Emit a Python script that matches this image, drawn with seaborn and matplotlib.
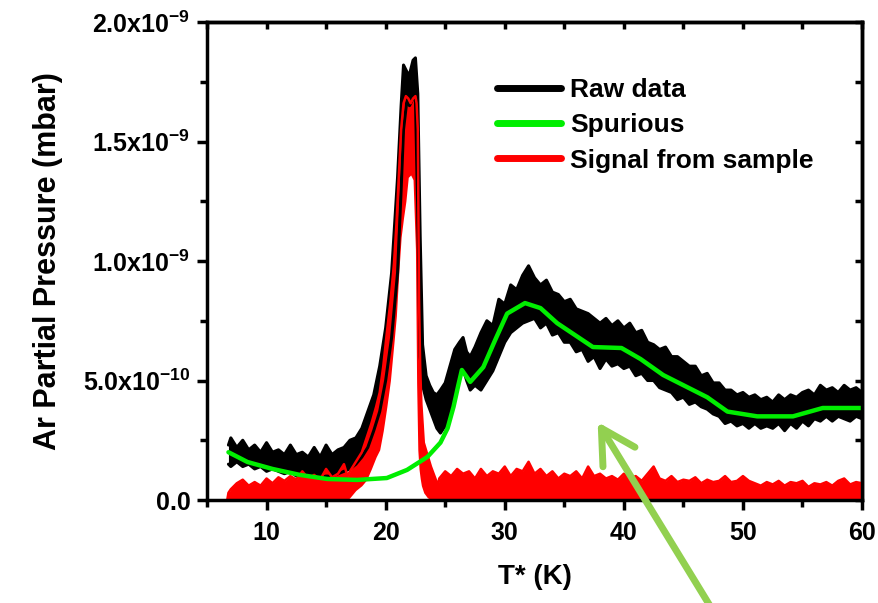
import numpy as np
import pandas as pd
import matplotlib
matplotlib.use("Agg")
import matplotlib.pyplot as plt
from matplotlib.lines import Line2D
import seaborn as sns

# values in units of 1e-10 mbar
raw_T = [6.8, 7.0, 7.5, 8.0, 8.5, 9.0, 9.5, 10.0, 10.5, 11.0, 11.5, 12.0, 12.5, 13.0, 13.5, 14.0, 14.5, 15.0, 15.5, 16.0,
         16.5, 17.0, 17.5, 18.0, 18.5, 19.0, 19.5, 20.0, 20.5, 21.0, 21.3, 21.5, 21.8, 22.0, 22.3, 22.5, 22.7, 22.9,
         23.1, 23.4, 23.7, 24.0, 24.3, 24.6, 25.0, 25.4, 25.8, 26.2, 26.5, 26.8, 27.1, 27.5,
         28.0, 28.5, 29.0, 29.5, 30.0, 30.5, 31.0, 31.5, 32.0, 32.5, 33.0, 33.5, 34.0, 34.5, 35.0, 35.5, 36.0, 36.5,
         37.0, 37.5, 38.0, 38.5, 39.0, 39.5, 40.0, 40.5, 41.0, 41.5, 42.0, 42.5, 43.0, 43.5, 44.0, 44.5, 45.0, 45.5,
         46.0, 46.5, 47.0, 47.5, 48.0, 48.5, 49.0, 49.5, 50.0, 50.5, 51.0, 51.5, 52.0, 52.5, 53.0, 53.5, 54.0, 54.5,
         55.0, 55.5, 56.0, 56.5, 57.0, 57.5, 58.0, 58.5, 59.0, 59.5, 60.0]
raw_hi = [2.3, 2.6, 2.2, 2.5, 2.1, 2.3, 2.0, 2.4, 2.0, 2.1, 1.9, 2.3, 1.9, 2.0, 1.8, 2.2, 1.8, 2.3, 1.9, 2.1,
          2.2, 2.5, 2.6, 3.0, 3.7, 4.4, 5.6, 7.2, 9.5, 13.5, 16.5, 18.2, 17.9, 17.8, 18.4, 18.5, 17.0, 11.0,
          6.5, 5.2, 4.8, 4.5, 4.4, 4.6, 4.9, 5.6, 6.3, 6.6, 6.8, 6.2, 6.0, 6.4,
          7.0, 7.5, 7.3, 8.4, 8.2, 9.0, 8.8, 9.4, 9.8, 9.3, 9.0, 9.2, 8.7, 8.6, 8.3, 8.4, 8.0, 7.9,
          7.8, 7.6, 7.4, 7.6, 7.3, 7.5, 7.2, 7.4, 7.0, 7.1, 6.6, 6.5, 6.3, 6.4, 6.0, 6.0, 5.8, 5.6,
          5.6, 5.2, 5.3, 4.9, 4.9, 4.6, 4.6, 4.4, 4.5, 4.3, 4.4, 4.2, 4.3, 4.1, 4.4, 4.2, 4.4, 4.3,
          4.5, 4.6, 4.4, 4.8, 4.6, 4.7, 4.5, 4.8, 4.6, 4.7, 4.5]
raw_lo = [1.5, 1.4, 1.6, 1.4, 1.5, 1.3, 1.4, 1.2, 1.3, 1.2, 1.1, 1.2, 1.0, 1.1, 1.0, 1.0, 0.95, 1.0, 1.0, 1.1,
          1.2, 1.3, 1.5, 1.8, 2.2, 2.9, 3.7, 5.0, 6.8, 9.5, 13.0, 15.5, 16.8, 16.5, 16.8, 16.8, 12.0, 6.0,
          4.8, 4.2, 3.8, 3.4, 3.0, 2.8, 3.1, 3.8, 4.6, 5.2, 5.5, 5.0, 4.6, 4.8,
          4.6, 5.0, 5.4, 6.0, 6.6, 7.0, 7.2, 7.4, 7.5, 7.6, 7.2, 7.4, 6.9, 7.0, 6.6, 6.6, 6.2, 6.3,
          5.8, 6.0, 5.5, 5.9, 5.6, 5.7, 5.5, 5.6, 5.2, 5.3, 5.0, 5.0, 4.7, 4.6, 4.5, 4.2, 4.3, 4.0,
          4.1, 3.9, 3.8, 3.6, 3.5, 3.2, 3.3, 3.1, 3.2, 3.0, 3.2, 3.0, 3.1, 3.0, 3.2, 2.9, 3.2, 3.0,
          3.3, 3.1, 3.4, 3.3, 3.5, 3.3, 3.5, 3.4, 3.3, 3.5, 3.4]

spur_T = [6.8, 8.4, 10.5, 12.8, 15.1, 17.6, 20.1, 21.8, 23.5, 24.6, 25.2, 25.7, 26.1, 26.4, 27.1, 28.2, 29.2,
          30.2, 31.7, 33.0, 34.4, 37.4, 39.8, 41.4, 43.3, 47.0, 48.7, 51.2, 54.2, 56.7, 60.0]
spur_v = [2.0, 1.59, 1.3, 1.05, 0.88, 0.84, 0.92, 1.26, 1.8, 2.4, 3.0, 3.9, 4.8, 5.44, 4.94, 5.56, 6.7,
          7.8, 8.24, 8.03, 7.4, 6.4, 6.36, 5.9, 5.23, 4.3, 3.7, 3.5, 3.5, 3.85, 3.85]

sig_T = [6.7, 6.8, 7.0, 7.5, 8.0, 8.5, 9.0, 9.5, 10.0, 10.5, 11.0, 11.5, 12.0, 12.5, 13.0, 13.5, 14.0, 14.5,
         15.0, 15.5, 16.0, 16.5,
         16.8, 17.0, 17.5, 18.0, 18.4, 18.8, 19.2, 19.5, 19.8, 20.1, 20.4, 20.7, 20.9, 21.1, 21.3, 21.5, 21.7,
         21.9, 22.1, 22.3, 22.5, 22.6, 22.7, 22.8, 22.9, 23.0, 23.2, 23.5, 23.8, 24.1, 24.4,
         24.5, 25.0, 25.5, 26.0, 26.5, 27.0, 27.5, 28.0, 28.5, 29.0, 29.5, 30.0, 30.5, 31.0, 31.5, 32.0, 32.5,
         33.0, 33.5, 34.0, 34.5, 35.0, 35.5, 36.0, 36.5, 37.0, 37.5, 38.0, 38.5, 39.0, 39.5, 40.0, 40.5, 41.0,
         41.5, 42.0, 42.5, 43.0, 43.5, 44.0, 44.5, 45.0, 45.5, 46.0, 46.5, 47.0, 47.5, 48.0, 48.5, 49.0, 49.5,
         50.0, 50.5, 51.0, 51.5, 52.0, 52.5, 53.0, 53.5, 54.0, 54.5, 55.0, 55.5, 56.0, 56.5, 57.0, 57.5, 58.0,
         58.5, 59.0, 59.5, 60.0]
sig_hi = [0.0, 0.3, 0.45, 0.7, 0.85, 0.6, 0.75, 0.6, 0.9, 0.7, 0.95, 0.8, 1.0, 0.85, 1.2, 0.9, 1.05, 0.85,
          1.3, 0.95, 1.1, 1.5,
          1.0, 1.2, 1.6, 2.0, 2.6, 3.2, 3.9, 4.5, 5.6, 7.0, 8.3, 9.9, 11.5, 13.5, 15.5, 16.6, 16.9,
          16.8, 16.6, 16.8, 16.9, 16.6, 15.5, 8.5, 5.6, 4.0, 2.4, 1.9, 1.4, 1.0, 0.6,
          0.9, 1.2, 1.0, 1.3, 1.1, 1.2, 0.9, 1.3, 1.0, 1.2, 1.1, 1.4, 1.0, 1.3, 1.2, 1.6, 1.1,
          1.3, 1.0, 1.2, 0.9, 1.1, 1.0, 1.2, 0.9, 1.4, 1.0, 1.1, 0.9, 1.0, 0.85, 1.1, 0.9, 1.0,
          0.8, 1.1, 1.4, 0.9, 0.8, 1.0, 0.75, 0.85, 0.8, 0.95, 0.7, 0.85, 0.75, 0.8, 1.0, 0.75, 0.8,
          1.0, 0.8, 0.7, 0.6, 0.75, 0.65, 0.8, 0.6, 0.75, 0.7, 0.8, 0.55, 0.7, 0.65, 0.75, 0.6, 0.8,
          0.9, 0.65, 0.75, 0.7]
sig_lo = ([0.0] * 22 +
          [0.0, 0.1, 0.4, 0.6, 0.84, 1.3, 1.8, 2.1, 2.9, 3.9, 5.0, 6.6, 7.7, 9.5, 11.0, 11.8, 12.5,
           13.5, 13.6, 13.4, 10.5, 4.9, 2.1, 1.3, 0.9, 0.6, 0.3, 0.1, 0.0, 0.0, 0.0] +
          [0.0] * 72)

ytick_vals = [0.0, 5.0, 10.0, 15.0, 20.0]
ytick_labels = ["0.0", r"5.0x10$^{-10}$", r"1.0x10$^{-9}$", r"1.5x10$^{-9}$", r"2.0x10$^{-9}$"]
xtick_vals = [10, 20, 30, 40, 50, 60]

raw = pd.DataFrame({"T": raw_T, "lo": raw_lo, "hi": raw_hi})
spur = pd.DataFrame({"T": spur_T, "v": spur_v})
sig = pd.DataFrame({"T": sig_T, "lo": sig_lo, "hi": sig_hi})

sns.set_style("ticks")
plt.rcParams["font.family"] = ["Liberation Sans", "DejaVu Sans"]
plt.rcParams["font.weight"] = "bold"
plt.rcParams["mathtext.fontset"] = "custom"
plt.rcParams["mathtext.rm"] = "Liberation Sans:bold"
plt.rcParams["mathtext.bf"] = "Liberation Sans:bold"
plt.rcParams["mathtext.default"] = "bf"
for k in ["text.color", "axes.labelcolor", "xtick.color", "ytick.color", "axes.edgecolor"]:
    plt.rcParams[k] = "black"

fig = plt.figure(figsize=(8.79, 6.03), dpi=100)
ax = fig.add_axes([0.2355, 0.1708, 0.7452, 0.7927])

GREEN = "#00ee00"
ax.fill_between(raw["T"], raw["lo"], raw["hi"], color="black", lw=0)
sns.lineplot(data=raw, x="T", y="hi", ax=ax, color="black", lw=2.2, sort=False)
sns.lineplot(data=raw, x="T", y="lo", ax=ax, color="black", lw=2.2, sort=False)
ax.fill_between(sig["T"], sig["lo"], sig["hi"], color="red", lw=0)
sns.lineplot(data=sig, x="T", y="hi", ax=ax, color="red", lw=1.8, sort=False)
sns.lineplot(data=spur, x="T", y="v", ax=ax, color=GREEN, lw=3.2, sort=False)

ax.set_xlim(5, 60)
ax.set_ylim(0, 20)
ax.set_xticks(xtick_vals)
ax.set_xticks(np.arange(5, 61, 5), minor=True)
ax.set_yticks(ytick_vals)
ax.set_yticklabels(ytick_labels)
ax.set_yticks(np.arange(0, 20.1, 2.5), minor=True)
ax.tick_params(axis="both", which="major", labelsize=18, width=2.5, length=7, direction="out", pad=5)
ax.tick_params(axis="x", which="major", pad=8)
ax.tick_params(axis="both", which="minor", width=2.5, length=5, direction="out")
for s in ax.spines.values():
    s.set_linewidth(2.5)
    s.set_visible(True)

# mirrored inward ticks on top and right
top = ax.secondary_xaxis("top")
top.set_xticks(xtick_vals)
top.set_xticks(np.arange(5, 61, 5), minor=True)
top.tick_params(which="both", direction="in", width=2.5, length=5, labeltop=False)
top.spines["top"].set_linewidth(2.5)
right = ax.secondary_yaxis("right")
right.set_yticks(ytick_vals)
right.set_yticks(np.arange(0, 20.1, 2.5), minor=True)
right.tick_params(which="both", direction="in", width=2.5, length=5, labelright=False)
right.spines["right"].set_linewidth(2.5)

ax.set_xlabel("T* (K)", fontsize=20, fontweight="bold", labelpad=14)
ax.set_ylabel("Ar Partial Pressure (mbar)", fontsize=22, fontweight="bold", labelpad=14)

handles = [Line2D([], [], color="black", lw=5, solid_capstyle="round"),
           Line2D([], [], color=GREEN, lw=5, solid_capstyle="round"),
           Line2D([], [], color="red", lw=5, solid_capstyle="round")]
ax.legend(handles, ["Raw data", "Spurious", "Signal from sample"], loc="upper left",
          bbox_to_anchor=(0.443, 0.882), frameon=False, fontsize=19, handlelength=2.4,
          handletextpad=0.35, labelspacing=0.42, borderpad=0, borderaxespad=0)

ax.annotate("", xy=(37.8, 3.26), xytext=(47.2, -4.4), annotation_clip=False,
            arrowprops=dict(arrowstyle="->,head_length=0.9,head_width=0.5", color="#92d050",
                            lw=5, shrinkA=0, shrinkB=0, mutation_scale=27))

fig.savefig("out.png", dpi=100)
